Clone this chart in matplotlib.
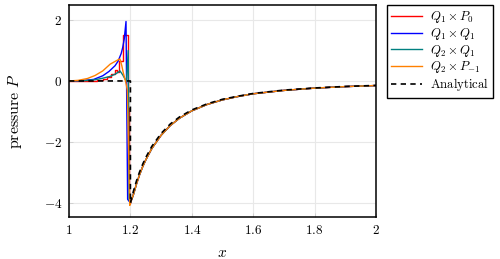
import matplotlib
matplotlib.use("Agg")
import matplotlib.pyplot as plt
from matplotlib.ticker import FuncFormatter, MultipleLocator

plt.rcParams['mathtext.fontset'] = 'cm'
plt.rcParams['font.family'] = ['DejaVu Serif']

# ---------------- data ----------------
# analytical solution
x_ana = [1.0, 1.2, 1.2, 1.21, 1.22, 1.23, 1.24, 1.25, 1.27, 1.30, 1.33, 1.36, 1.40,
         1.45, 1.50, 1.55, 1.60, 1.70, 1.80, 1.90, 2.0]
p_ana = [0.0, 0.0, -4.0, -3.61, -3.27, -2.98, -2.73, -2.51, -2.14, -1.72, -1.41,
         -1.18, -0.95, -0.75, -0.60, -0.50, -0.41, -0.30, -0.23, -0.18, -0.147]

# common far-field part of the numerical solutions (they overlap there)
x_far = [1.20, 1.21, 1.22, 1.23, 1.24, 1.25, 1.27, 1.30, 1.33, 1.36, 1.40,
         1.45, 1.50, 1.55, 1.60, 1.70, 1.80, 1.90, 2.0]
p_far = [-4.0, -3.72, -3.37, -3.07, -2.81, -2.59, -2.21, -1.78, -1.46, -1.22,
         -0.98, -0.77, -0.62, -0.51, -0.42, -0.31, -0.235, -0.185, -0.15]

# Q1 x P0 (piecewise constant near the interface)
x_q1p0 = [1.0, 1.09, 1.11, 1.125, 1.138, 1.15, 1.157, 1.164, 1.177, 1.193, 1.197, 1.2]
p_q1p0 = [0.0, 0.03, 0.06, 0.12, 0.23, 0.36, 0.30, 0.67, 1.52, -0.9, -3.9, -4.0]

# Q1 x Q1
x_q1q1 = [1.0, 1.04, 1.08, 1.11, 1.13, 1.15, 1.16, 1.17, 1.175, 1.18, 1.1857, 1.191]
p_q1q1 = [0.0, 0.01, 0.05, 0.17, 0.31, 0.50, 0.65, 0.90, 1.10, 1.38, 1.95, -3.88]

# Q2 x Q1
x_q2q1 = [1.0, 1.05, 1.085, 1.11, 1.134, 1.15, 1.161, 1.166, 1.175, 1.183, 1.187, 1.193, 1.196]
p_q2q1 = [0.0, 0.01, 0.04, 0.09, 0.15, 0.22, 0.29, 0.33, 0.20, 0.05, 0.0, 1.0, -3.9]

# Q2 x P-1
x_q2pm1 = [1.0, 1.03, 1.06, 1.085, 1.11, 1.134, 1.15, 1.161, 1.166, 1.172, 1.177, 1.184, 1.19, 1.198]
p_q2pm1 = [0.0, 0.02, 0.08, 0.18, 0.33, 0.55, 0.64, 0.70, 0.72, 0.50, 0.26, 0.0, -0.3, -4.08]

labels = [r'$Q_1\times P_0$', r'$Q_1\times Q_1$', r'$Q_2\times Q_1$',
          r'$Q_2\times P_{-1}$', r'$\mathrm{Analytical}$']
colors = ['#ff0000', '#0000ff', '#008080', '#ff8000', 'black']

# ---------------- figure ----------------
fig = plt.figure(figsize=(5.0, 2.59), dpi=100)
ax = fig.add_axes([69/500, 1-217/259, (376-69)/500, (217-5)/259])

lw = 1.0
ax.plot(x_q1p0, p_q1p0, drawstyle='steps-post', color=colors[0], lw=lw, label=labels[0])
ax.plot(x_far, p_far, color=colors[0], lw=lw)
ax.plot(x_q1q1 + x_far, p_q1q1 + p_far, color=colors[1], lw=lw, label=labels[1])
ax.plot(x_q2q1 + x_far, p_q2q1 + p_far, color=colors[2], lw=lw, label=labels[2])
ax.plot(x_q2pm1 + x_far, p_q2pm1 + p_far, color=colors[3], lw=lw, label=labels[3])
ax.plot(x_ana, p_ana, color=colors[4], lw=1.2, dashes=(3.2, 2.6), label=labels[4])

ax.set_xlim(1, 2)
ax.set_ylim(-4.46, 2.49)
ax.xaxis.set_major_locator(MultipleLocator(0.2))
ax.yaxis.set_major_locator(MultipleLocator(2))
ax.xaxis.set_major_formatter(FuncFormatter(lambda v, p: f'${v:.1f}$'.replace('.0$', '$')))
ax.yaxis.set_major_formatter(FuncFormatter(lambda v, p: f'${v:.0f}$'))
ax.tick_params(direction='in', length=3, width=0.6, color='#cccccc', labelsize=9.5, pad=5)
ax.grid(True, color='#e8e8e8', lw=0.8)
ax.set_axisbelow(True)
for s in ax.spines.values():
    s.set_linewidth(1.1)

ax.set_xlabel(r'$x$', fontsize=11)
ax.xaxis.set_label_coords(0.5, -0.135)
ax.set_ylabel(r'$\mathrm{pressure}\ P$', fontsize=11.5)
ax.yaxis.set_label_coords(-0.148, 0.5)

leg = fig.legend(loc='upper left', bbox_to_anchor=(387/500, 1-5/259), fontsize=9.2,
                 frameon=True, fancybox=False, edgecolor='black', framealpha=1,
                 handlelength=2.4, handletextpad=0.6, borderpad=0.35, labelspacing=0.05,
                 borderaxespad=0)
leg.get_frame().set_linewidth(1.0)

fig.savefig('out.png', dpi=100)
